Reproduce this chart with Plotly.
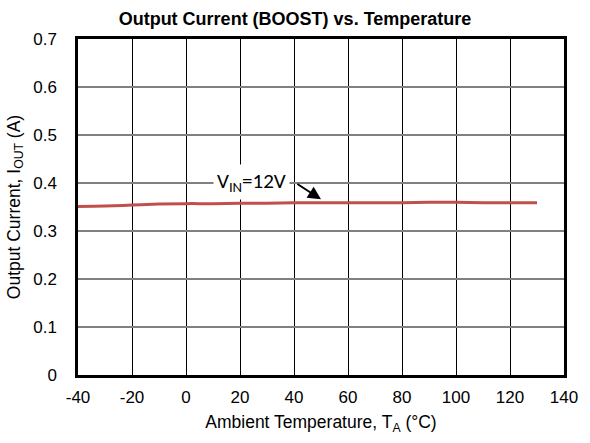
import plotly.graph_objects as go

# Output current vs ambient temperature, VIN = 12 V
temperature_c = [-40, -30, -20, -10, 0, 10, 20, 30, 40, 50, 60, 70, 80, 90, 100, 110, 120, 130]
output_current_a = [0.351, 0.352, 0.354, 0.356, 0.357, 0.357, 0.358, 0.358, 0.359, 0.359, 0.359, 0.359, 0.359, 0.360, 0.360, 0.359, 0.359, 0.359]

x_ticks = [-40, -20, 0, 20, 40, 60, 80, 100, 120, 140]
x_tick_labels = ["-40", "-20", "0", "20", "40", "60", "80", "100", "120", "140"]
y_ticks = [0, 0.1, 0.2, 0.3, 0.4, 0.5, 0.6, 0.7]
y_tick_labels = ["0", "0.1", "0.2", "0.3", "0.4", "0.5", "0.6", "0.7"]

font_family = "Liberation Sans, Arial, sans-serif"

fig = go.Figure()
fig.add_trace(go.Scatter(
    x=temperature_c, y=output_current_a, mode="lines",
    line=dict(color="#C0504D", width=3, shape="spline"),
    showlegend=False, hoverinfo="skip",
))

# Series label and its pointer arrow
fig.add_annotation(
    x=24.4, y=0.402, xref="x", yref="y", text="V<sub>IN</sub>=12V",
    showarrow=False, bgcolor="white", borderpad=3,
    font=dict(family="Carlito, Calibri, Liberation Sans, sans-serif", size=21, color="black"),
)
fig.add_annotation(
    x=50.0, y=0.366, ax=40.7, ay=0.400, xref="x", yref="y", axref="x", ayref="y",
    text="", showarrow=True, arrowhead=2, arrowsize=1.3, arrowwidth=2, arrowcolor="black",
)

fig.update_layout(
    width=590, height=443,
    margin=dict(l=78, r=17, t=39, b=68),
    paper_bgcolor="white", plot_bgcolor="white",
    font=dict(family=font_family, size=17, color="black"),
    title=dict(text="<b>Output Current (BOOST) vs. Temperature</b>",
               x=0.5, xanchor="center", y=0.957, yanchor="middle",
               font=dict(size=18, family=font_family)),
    xaxis=dict(
        range=[-40, 140], tickvals=x_ticks, ticktext=x_tick_labels, ticks="",
        showgrid=True, gridcolor="black", gridwidth=1,
        showline=True, linecolor="black", linewidth=2.5, mirror=True,
        zeroline=False, tickfont=dict(size=17), ticklabelstandoff=5,
        title=dict(text="Ambient Temperature, T<sub>A</sub> (°C)", font=dict(size=17.5), standoff=10),
    ),
    yaxis=dict(
        range=[0, 0.7], tickvals=y_ticks, ticktext=y_tick_labels, ticks="",
        showgrid=True, gridcolor="#808080", gridwidth=1.5,
        showline=True, linecolor="black", linewidth=2.5, mirror=True,
        zeroline=False, tickfont=dict(size=17), ticklabelstandoff=15,
        title=dict(text="Output Current, I<sub>OUT</sub> (A)", font=dict(size=17.5), standoff=9),
    ),
)

fig.write_html("out.html")
